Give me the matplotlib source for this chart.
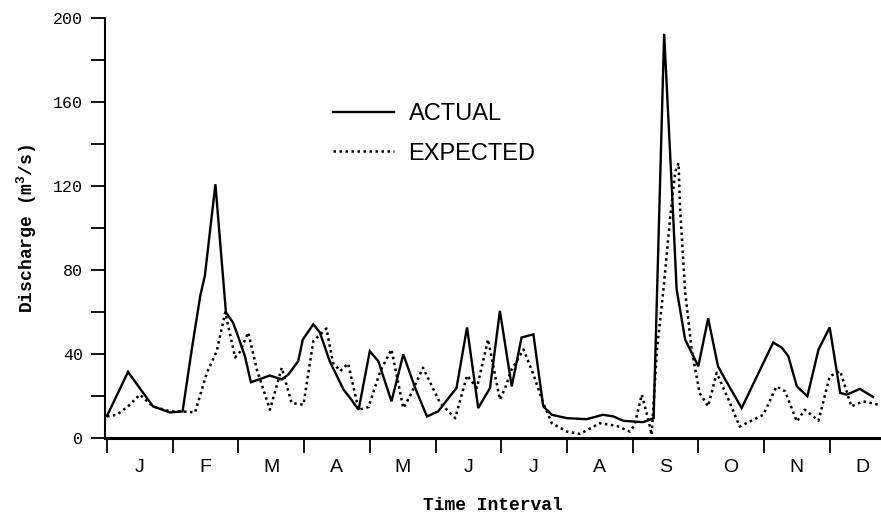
import matplotlib
matplotlib.use("Agg")
import matplotlib.pyplot as plt
from matplotlib.ticker import FixedLocator, FuncFormatter

plt.rcParams['mathtext.fontset'] = 'custom'
plt.rcParams['mathtext.rm'] = 'Liberation Mono:bold'

months = ['J', 'F', 'M', 'A', 'M', 'J', 'J', 'A', 'S', 'O', 'N', 'D']

actual_t = [0.00, 0.32, 0.70, 0.96, 1.15, 1.29, 1.42, 1.49, 1.65, 1.81, 1.92, 1.99,
            2.10, 2.19, 2.48, 2.66, 2.76, 2.91, 2.98, 3.14, 3.24, 3.39, 3.60, 3.70,
            3.83, 4.00, 4.13, 4.33, 4.51, 4.69, 4.87, 5.04, 5.32, 5.48, 5.65, 5.83,
            5.98, 6.16, 6.31, 6.49, 6.64, 6.77, 7.00, 7.30, 7.55, 7.71, 7.86, 8.16,
            8.32, 8.48, 8.60, 8.67, 8.80, 9.00, 9.15, 9.30, 9.41, 9.66, 10.14, 10.27,
            10.37, 10.50, 10.66, 10.83, 11.00, 11.16, 11.26, 11.46, 11.66]
actual_q = [10.7, 31.6, 15.2, 12.3, 12.8, 42.3, 67.9, 77.5, 121.0, 60.0, 55.0, 49.0,
            39.0, 26.7, 29.9, 28.0, 30.4, 36.7, 47.0, 54.3, 50.4, 36.7, 23.2, 19.2,
            13.6, 41.5, 36.7, 17.6, 40.0, 24.0, 10.4, 12.8, 24.0, 52.8, 14.4, 24.0,
            60.7, 24.7, 48.0, 49.5, 15.2, 11.2, 9.6, 9.1, 11.2, 10.4, 8.3, 7.7,
            9.6, 192.6, 117.5, 71.0, 47.0, 34.3, 57.1, 34.3, 28.0, 14.4, 45.6, 43.2,
            39.1, 24.7, 20.0, 42.3, 52.8, 21.6, 20.8, 23.5, 19.7]

expected_t = [0.00, 0.15, 0.32, 0.50, 0.70, 0.96, 1.15, 1.34, 1.52, 1.67, 1.80, 1.95,
              2.02, 2.15, 2.28, 2.48, 2.66, 2.81, 2.99, 3.14, 3.34, 3.44, 3.55, 3.67,
              3.83, 3.98, 4.16, 4.33, 4.51, 4.61, 4.81, 5.07, 5.30, 5.48, 5.63, 5.80,
              5.98, 6.06, 6.16, 6.34, 6.49, 6.64, 6.77, 7.00, 7.20, 7.50, 7.76, 7.96,
              8.03, 8.14, 8.24, 8.29, 8.37, 8.47, 8.57, 8.65, 8.70, 8.72, 8.80, 8.90,
              9.02, 9.15, 9.28, 9.46, 9.63, 9.99, 10.19, 10.32, 10.50, 10.62, 10.83,
              11.00, 11.16, 11.33, 11.51, 11.74]
expected_q = [10.4, 11.2, 15.2, 20.8, 15.2, 12.8, 12.8, 12.3, 31.2, 41.5, 60.0, 38.5,
              41.0, 50.4, 32.8, 13.6, 33.6, 16.8, 16.0, 46.3, 52.3, 36.0, 32.0, 35.6,
              13.6, 14.9, 32.0, 42.3, 14.4, 20.0, 33.6, 16.8, 9.6, 29.9, 24.0, 47.1,
              18.4, 24.0, 32.8, 42.3, 30.4, 16.8, 7.2, 3.2, 2.1, 7.2, 5.9, 3.2,
              6.4, 20.8, 8.8, 1.6, 42.0, 71.0, 104.6, 127.0, 131.0, 111.0, 69.7, 42.0,
              21.6, 15.2, 31.2, 18.4, 5.6, 11.2, 24.7, 22.4, 8.0, 13.6, 8.4,
              29.5, 32.0, 15.2, 17.6, 16.0]

W, H = 881, 516
fig = plt.figure(figsize=(W / 100, H / 100), dpi=100)
left, right = 105 / W, 1.0
bottom, top = 1 - 438.3 / H, 1 - 18.3 / H
ax = fig.add_axes([left, bottom, right - left, top - bottom])

mono = 'Liberation Mono'
sans = 'Liberation Sans'

l1, = ax.plot(actual_t, actual_q, color='black', lw=1.7, solid_joinstyle='miter',
              label='ACTUAL')
l2, = ax.plot(expected_t, expected_q, color='black', lw=1.8,
              linestyle=(0, (1.0, 1.4)), label='EXPECTED')

ax.set_ylim(0, 200)
ax.set_xlim((105 - 107) / 65.7, (W - 107) / 65.7)

for s in ['top', 'right']:
    ax.spines[s].set_visible(False)
ax.spines['left'].set_linewidth(1.5)
ax.spines['bottom'].set_linewidth(2.2)

ax.yaxis.set_major_locator(FixedLocator(list(range(0, 201, 20))))
ax.yaxis.set_major_formatter(FuncFormatter(lambda v, p: f"{int(v)}" if int(v) % 40 == 0 else ""))
ax.tick_params(axis='y', direction='out', length=10, width=1.3, pad=6,
               labelsize=12)
for lab in ax.get_yticklabels():
    lab.set_fontfamily(mono)

ax.set_xticks(list(range(0, 12)))
ax.set_xticklabels([])
ax.tick_params(axis='x', which='major', direction='out', length=11, width=1.3)
ax.set_xticks([i + 0.5 for i in range(12)], minor=True)
ax.set_xticklabels(months, minor=True, fontfamily=sans, fontsize=14)
ax.tick_params(axis='x', which='minor', length=0, pad=15)

ax.set_ylabel('Discharge (m$^3$/s)', fontfamily=mono, fontweight='bold',
              fontsize=13, labelpad=10)
ax.set_xlabel('Time Interval', fontfamily=mono, fontweight='bold',
              fontsize=13, labelpad=15)

leg = ax.legend(handles=[l1, l2], loc='upper left',
                bbox_to_anchor=(333 / W, 1 - 103 / H), bbox_transform=fig.transFigure,
                frameon=False, handlelength=2.6, handletextpad=0.6,
                labelspacing=0.75, borderpad=0, borderaxespad=0,
                prop={'family': sans, 'size': 17})

fig.savefig('out.png', dpi=100)
